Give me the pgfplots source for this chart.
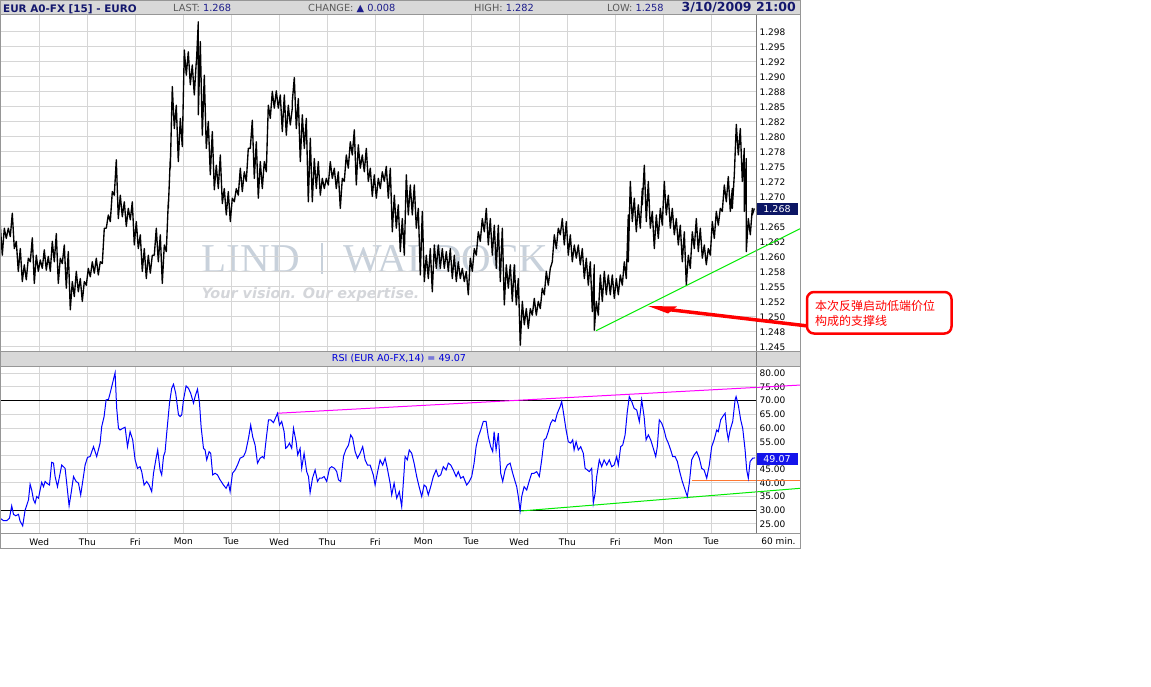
\documentclass[border=0pt]{standalone}
\usepackage{fontspec}
\setmainfont{DejaVu Sans}
\newfontfamily\wmserif{Liberation Serif}
\newfontfamily\cjk{Noto Sans CJK SC}
\usepackage{pgfplots}
\pgfplotsset{compat=1.18}

\definecolor{barbg}{RGB}{216,216,216}
\definecolor{framegray}{RGB}{150,150,150}
\definecolor{axisgray}{RGB}{120,120,120}
\definecolor{gridgray}{RGB}{214,214,214}
\definecolor{navy}{RGB}{20,24,110}
\definecolor{labgray}{RGB}{90,90,90}
\definecolor{valblue}{RGB}{30,30,140}
\definecolor{pricebox}{RGB}{12,22,100}
\definecolor{rsibox}{RGB}{20,20,235}
\definecolor{rsiblue}{RGB}{0,0,255}
\definecolor{trmag}{RGB}{255,0,255}
\definecolor{trgreen}{RGB}{0,235,0}
\definecolor{trorange}{RGB}{255,120,50}
\definecolor{wm}{RGB}{200,209,219}
\definecolor{wmtag}{RGB}{212,214,218}
\definecolor{annred}{RGB}{255,0,0}

\pgfplotsset{
  panel/.style={
    scale only axis, width=756pt,
    xmin=4.35, xmax=382.35,
    axis line style={draw=none},
    major tick length=0pt,
    grid=major,
    major grid style={gridgray, line width=1pt},
    clip=false,
    xtick={24,48,...,360},
    yticklabel pos=right,
    ticklabel style={font=\fontsize{9}{10}\selectfont},
  }
}

\begin{document}
\begin{tikzpicture}
\useasboundingbox (0pt,0pt) rectangle (1151pt,-687pt);
\fill[white] (0pt,0pt) rectangle (1151pt,-687pt);
% header bars
\fill[barbg] (0pt,0pt) rectangle (800pt,-15pt);
\fill[barbg] (0pt,-351pt) rectangle (800pt,-366pt);

% watermark
\node[anchor=base west, inner sep=0, text=wm, font=\wmserif\fontsize{41}{41}\selectfont] at (201.7pt,-272.7pt) {LIND};
\draw[wm, line width=2pt] (321.7pt,-243pt) -- (321.7pt,-273.5pt);
\node[anchor=base west, inner sep=0, text=wm, font=\wmserif\fontsize{41}{41}\selectfont] at (343pt,-272.7pt) {WALDOCK};
\node[inner sep=0, text=wm, font=\wmserif\fontsize{12}{12}\selectfont] at (557pt,-250pt) {®};
\node[anchor=base west, inner sep=0, text=wmtag, font=\bfseries\itshape\fontsize{14.4}{15}\selectfont] at (201.7pt,-298.3pt) {Your vision. Our expertise.};

% price panel
\begin{axis}[panel,
  at={(0pt,-351pt)}, anchor=south west, height=336pt,
  ymin=1.24433, ymax=1.30033,
  ytick={1.245,1.2475,1.25,1.2525,1.255,1.2575,1.26,1.2625,1.265,1.2675,1.27,1.2725,1.275,1.2775,1.28,1.2825,1.285,1.2875,1.29,1.2925,1.295,1.2975},
  yticklabels={1.245,1.248,1.250,1.252,1.255,1.258,1.260,1.262,1.265,,1.270,1.272,1.275,1.278,1.280,1.282,1.285,1.288,1.290,1.292,1.295,1.298},
  xticklabels={},
]
\addplot[black, line width=1.35pt, line join=round] coordinates {
(4.4,1.2634)(4.5,1.2653)(5.5,1.2603)(6.5,1.2648)(7.5,1.2631)(8.5,1.2648)(9.5,1.2634)(10.5,1.2673)(11.5,1.2614)(12.5,1.2626)
(13.5,1.2576)(14.5,1.2614)(15.5,1.2559)(16.5,1.2587)(17.5,1.2562)(18.5,1.2598)(19.5,1.2592)(20.5,1.2632)(21.5,1.2556)(22.5,1.2603)
(23.5,1.2576)(24.5,1.2595)(25.5,1.2581)(26.5,1.2612)(27.5,1.2578)(28.5,1.2601)(29.5,1.2576)(30.5,1.2626)(31.5,1.2592)(32.5,1.2639)
(33.5,1.2556)(34.5,1.2598)(35.5,1.2589)(36.5,1.2620)(37.5,1.2548)(38.5,1.2609)(39.5,1.2512)(40.5,1.2559)(41.5,1.2534)(42.5,1.2576)
(43.5,1.2542)(44.5,1.2564)(45.5,1.2526)(46.5,1.2559)(47.5,1.2553)(48.5,1.2581)(49.5,1.2567)(50.5,1.2592)(51.5,1.2573)(52.5,1.2598)
(53.5,1.2570)(54.5,1.2592)(55.5,1.2589)(56.5,1.2648)(57.5,1.2648)(58.5,1.2670)(59.5,1.2659)(60.5,1.2709)(61.5,1.2703)(62.5,1.2762)
(63.5,1.2664)(64.5,1.2703)(65.5,1.2667)(66.5,1.2692)(67.5,1.2651)(68.5,1.2681)(69.5,1.2662)(70.5,1.2692)(71.5,1.2620)(72.5,1.2659)
(73.5,1.2614)(74.5,1.2637)(75.5,1.2576)(76.5,1.2614)(77.5,1.2564)(78.5,1.2603)(79.5,1.2573)(80.5,1.2603)(81.5,1.2603)(82.5,1.2648)
(83.5,1.2592)(84.5,1.2637)(85.5,1.2556)(86.5,1.2620)(87.5,1.2609)(88.5,1.2692)(88.5,1.2681)(89.5,1.2764)(89.5,1.2748)(90.5,1.2884)
(91.5,1.2814)(92.5,1.2853)(93.5,1.2759)(94.5,1.2831)(95.5,1.2784)(96.5,1.2945)(97.5,1.2903)(98.5,1.2942)(99.5,1.2887)(100.5,1.2920)
(101.5,1.2870)(102.5,1.2926)(102.5,1.2920)(103.5,1.2992)(103.5,1.2837)(104.5,1.2959)(105.5,1.2803)(106.5,1.2903)(107.5,1.2781)(108.5,1.2826)
(109.5,1.2737)(110.5,1.2809)(111.5,1.2712)(112.5,1.2753)(113.5,1.2714)(114.5,1.2770)(115.5,1.2689)(116.5,1.2714)(117.5,1.2670)(118.5,1.2709)
(119.5,1.2659)(120.5,1.2698)(121.5,1.2692)(122.5,1.2714)(123.5,1.2703)(124.5,1.2748)(125.5,1.2709)(126.5,1.2742)(127.5,1.2726)(128.5,1.2781)
(129.5,1.2781)(130.5,1.2828)(131.5,1.2731)(132.5,1.2792)(133.5,1.2698)(134.5,1.2759)(135.5,1.2714)(136.5,1.2759)(137.5,1.2742)(138.5,1.2853)
(139.5,1.2831)(140.5,1.2876)(141.5,1.2848)(142.5,1.2877)(143.5,1.2848)(144.5,1.2870)(145.5,1.2809)(146.5,1.2870)(147.5,1.2803)(148.5,1.2853)
(149.5,1.2820)(150.5,1.2848)(150.5,1.2859)(151.5,1.2899)(152.5,1.2814)(153.5,1.2864)(154.5,1.2759)(155.5,1.2837)(156.5,1.2781)(157.5,1.2831)
(158.5,1.2692)(159.5,1.2798)(160.5,1.2692)(161.5,1.2764)(162.5,1.2714)(163.5,1.2759)(164.5,1.2703)(165.5,1.2731)(166.5,1.2714)(167.5,1.2731)
(168.5,1.2720)(169.5,1.2759)(170.5,1.2731)(171.5,1.2748)(172.5,1.2714)(173.5,1.2742)(174.5,1.2681)(175.5,1.2731)(176.5,1.2726)(177.5,1.2770)
(178.5,1.2748)(179.5,1.2792)(180.5,1.2770)(181.5,1.2812)(182.5,1.2720)(183.5,1.2787)(184.5,1.2748)(185.5,1.2770)(186.5,1.2742)(187.5,1.2781)
(188.5,1.2726)(189.5,1.2748)(190.5,1.2701)(191.5,1.2737)(192.5,1.2698)(193.5,1.2731)(194.5,1.2714)(195.5,1.2742)(196.5,1.2726)(197.5,1.2751)
(198.5,1.2698)(199.5,1.2748)(200.5,1.2642)(201.5,1.2703)(202.5,1.2648)(203.5,1.2687)(204.5,1.2609)(205.5,1.2664)(206.5,1.2603)(207.5,1.2737)
(208.5,1.2670)(209.5,1.2720)(210.5,1.2670)(211.5,1.2720)(212.5,1.2648)(213.5,1.2681)(214.5,1.2570)(215.5,1.2676)(216.5,1.2559)(217.5,1.2603)
(218.5,1.2564)(219.5,1.2614)(220.5,1.2542)(221.5,1.2620)(222.5,1.2581)(223.5,1.2620)(224.5,1.2581)(225.5,1.2614)(226.5,1.2581)(227.5,1.2609)
(228.5,1.2576)(229.5,1.2614)(230.5,1.2564)(231.5,1.2603)(232.5,1.2559)(233.5,1.2592)(234.5,1.2564)(235.5,1.2581)(236.5,1.2559)(237.5,1.2576)
(238.5,1.2537)(239.5,1.2598)(240.5,1.2576)(241.5,1.2614)(242.5,1.2603)(243.5,1.2642)(244.5,1.2626)(245.5,1.2664)(246.5,1.2642)(247.5,1.2681)
(248.5,1.2620)(249.5,1.2664)(250.5,1.2603)(251.5,1.2653)(252.5,1.2581)(253.5,1.2653)(254.5,1.2559)(255.5,1.2648)(256.5,1.2520)(257.5,1.2587)
(258.5,1.2548)(259.5,1.2587)(260.5,1.2526)(261.5,1.2587)(262.5,1.2520)(263.5,1.2564)(264.5,1.2453)(265.5,1.2526)(266.5,1.2487)(267.5,1.2514)
(268.5,1.2481)(269.5,1.2514)(270.5,1.2503)(271.5,1.2531)(272.5,1.2503)(273.5,1.2526)(274.5,1.2514)(275.5,1.2548)(276.5,1.2537)(277.5,1.2576)
(278.5,1.2553)(279.5,1.2581)(280.5,1.2592)(281.5,1.2637)(282.5,1.2614)(283.5,1.2648)(284.5,1.2637)(285.5,1.2664)(286.5,1.2620)(287.5,1.2659)
(288.5,1.2603)(289.5,1.2637)(290.5,1.2592)(291.5,1.2620)(292.5,1.2598)(293.5,1.2620)(294.5,1.2587)(295.5,1.2614)(296.5,1.2564)(297.5,1.2598)
(298.5,1.2553)(299.5,1.2592)(300.5,1.2509)(301.5,1.2587)(301.5,1.2478)(302.5,1.2526)(303.5,1.2503)(304.5,1.2570)(305.5,1.2526)(306.5,1.2576)
(307.5,1.2537)(308.5,1.2570)(309.5,1.2537)(310.5,1.2570)(311.5,1.2531)(312.5,1.2564)(313.5,1.2537)(314.5,1.2570)(315.5,1.2553)(316.5,1.2592)
(317.5,1.2564)(318.5,1.2670)(318.5,1.2592)(319.5,1.2726)(320.5,1.2659)(321.5,1.2698)(322.5,1.2642)(323.5,1.2687)(324.5,1.2648)(325.5,1.2714)
(325.5,1.2687)(326.5,1.2753)(327.5,1.2659)(328.5,1.2726)(329.5,1.2648)(330.5,1.2676)(331.5,1.2614)(332.5,1.2670)(333.5,1.2631)(334.5,1.2681)
(335.5,1.2653)(336.5,1.2726)(337.5,1.2670)(338.5,1.2703)(339.5,1.2648)(340.5,1.2681)(341.5,1.2637)(342.5,1.2664)(343.5,1.2620)(344.5,1.2653)
(345.5,1.2592)(346.5,1.2642)(347.5,1.2553)(348.5,1.2603)(349.5,1.2581)(350.5,1.2642)(351.5,1.2614)(352.5,1.2664)(353.5,1.2609)(354.5,1.2648)
(355.5,1.2598)(356.5,1.2620)(357.5,1.2587)(358.5,1.2614)(359.5,1.2603)(360.5,1.2659)(361.5,1.2631)(362.5,1.2676)(363.5,1.2653)(364.5,1.2681)
(365.5,1.2676)(366.5,1.2720)(367.5,1.2692)(368.5,1.2734)(369.5,1.2676)(370.5,1.2714)(370.5,1.2681)(371.5,1.2737)(371.5,1.2737)(372.5,1.2821)
(373.5,1.2770)(374.5,1.2814)(375.5,1.2726)(376.5,1.2781)(376.5,1.2676)(377.5,1.2764)(377.5,1.2609)(378.5,1.2664)(379.5,1.2637)(380.5,1.2681)
(380.5,1.2670)(381.5,1.2681)
};
% support line drawn on the price panel
\addplot[trgreen, line width=1pt] coordinates {(302.35,1.2477)(404.35,1.2647)};
\end{axis}

% RSI panel
\begin{axis}[panel,
  at={(0pt,-532.7pt)}, anchor=south west, height=166.7pt,
  ymin=21.8, ymax=82.66,
  ytick={25,30,...,80},
  yticklabels={25.00,30.00,35.00,40.00,45.00,,55.00,60.00,65.00,70.00,75.00,80.00},
  xticklabels={Wed,Thu,Fri,Mon,Tue,Wed,Thu,Fri,Mon,Tue,Wed,Thu,Fri,Mon,Tue},
  xticklabel style={yshift=-2pt},
]
\addplot[black, line width=1pt] coordinates {(4.35,30)(382.35,30)};
\addplot[black, line width=1pt] coordinates {(4.35,70)(382.35,70)};
\addplot[trmag, line width=1pt] coordinates {(142.85,65.4)(404.35,75.7)};
\addplot[trgreen, line width=1pt] coordinates {(264.35,29.7)(404.35,38.0)};
\addplot[trorange, line width=1pt] coordinates {(350.35,41.0)(404.35,41.0)};
\addplot[rsiblue, line width=1pt] coordinates {
(4.4,27.1)(6.1,26.2)(7.7,26.2)(9.1,27.1)(10.2,31.6)(11.1,28.5)(12.2,28.0)(13.6,28.5)(14.4,26.0)(15.2,25.0)
(15.7,24.3)(16.9,30.0)(18.6,33.8)(19.4,39.5)(20.2,37.4)(21.1,33.8)(21.9,32.6)(22.7,35.0)(23.6,34.4)(24.4,37.4)
(25.2,40.2)(26.1,38.6)(26.9,40.5)(27.7,39.9)(29.1,39.2)(30.2,47.5)(31.1,47.2)(31.9,42.3)(33.1,38.6)(34.1,42.3)
(35.2,46.5)(36.9,45.3)(37.7,39.9)(38.9,31.6)(39.9,36.2)(41.1,42.3)(42.4,40.5)(43.6,39.9)(44.7,35.6)(45.7,40.5)
(46.9,46.5)(48.1,49.3)(49.4,49.6)(51.1,53.2)(52.7,49.6)(54.4,54.5)(55.2,60.5)(56.4,64.2)(57.4,70.3)(58.6,70.5)
(59.4,72.7)(60.7,76.6)(61.9,80.2)(62.7,67.2)(63.6,59.9)(64.4,59.3)(65.7,59.9)(66.9,60.3)(68.1,53.2)(69.4,58.7)
(70.7,55.7)(71.9,48.4)(73.1,45.3)(74.4,45.9)(75.2,44.1)(76.4,39.2)(77.7,40.5)(78.9,39.2)(80.2,36.8)(81.1,43.5)
(82.4,49.0)(83.2,52.0)(84.4,44.7)(85.2,42.9)(86.1,49.6)(86.9,51.4)(87.7,58.1)(89.1,69.1)(90.2,74.5)(91.1,76.0)
(92.2,72.7)(93.6,64.8)(94.4,64.2)(95.2,64.8)(96.1,70.3)(97.4,75.4)(98.6,74.5)(99.7,72.7)(101.1,69.1)(101.9,71.5)
(103.1,74.2)(104.1,69.1)(104.9,60.5)(106.1,52.6)(106.9,52.0)(107.7,48.4)(108.9,51.4)(109.7,50.8)(110.7,42.9)(111.9,43.5)
(113.1,42.9)(114.4,41.1)(116.1,39.2)(117.4,38.0)(118.6,39.9)(119.4,36.8)(120.6,43.5)(121.9,44.7)(123.1,46.5)(124.4,49.0)
(126.1,49.6)(127.2,51.4)(128.6,56.3)(129.7,61.1)(130.7,56.8)(131.9,53.8)(133.1,47.2)(134.4,49.0)(135.6,49.6)(136.4,49.0)
(137.4,55.7)(138.6,63.0)(139.7,63.0)(141.1,62.0)(142.4,64.2)(143.1,65.4)(144.1,61.1)(145.2,62.4)(146.4,58.7)(147.2,52.6)
(148.1,53.2)(149.1,54.5)(150.2,52.6)(151.1,59.9)(152.4,55.0)(153.2,50.2)(154.4,52.6)(155.2,45.3)(156.4,50.8)(157.7,44.1)
(158.6,42.3)(159.4,36.4)(160.6,41.7)(161.9,44.7)(163.1,40.5)(164.1,41.7)(165.2,41.7)(166.4,42.3)(167.7,40.5)(169.1,45.3)
(170.2,45.9)(171.6,45.3)(172.7,44.1)(173.6,41.1)(174.7,40.5)(176.1,49.6)(177.2,52.0)(178.6,53.8)(179.7,57.5)(180.7,56.3)
(181.9,51.4)(183.1,49.0)(184.4,50.8)(185.7,53.2)(186.9,48.4)(188.1,46.5)(189.4,46.5)(191.0,42.9)(191.9,39.2)(193.0,43.5)
(194.4,48.4)(195.7,46.5)(196.9,49.0)(198.0,45.3)(199.4,39.9)(200.2,35.6)(201.4,39.9)(202.7,34.4)(204.0,36.8)(205.2,31.3)
(206.0,39.9)(206.9,49.6)(208.0,48.4)(209.0,52.0)(210.2,50.8)(211.4,47.2)(212.7,42.3)(213.9,38.6)(215.2,35.0)(216.4,39.2)
(217.4,38.6)(218.5,35.6)(219.7,38.6)(221.0,42.3)(222.4,44.7)(223.5,42.3)(224.7,42.9)(226.0,45.9)(227.4,44.7)(228.5,47.2)
(229.7,46.5)(231.0,44.7)(232.4,42.3)(233.5,44.1)(234.7,41.7)(236.0,42.3)(237.7,39.2)(239.0,40.5)(240.2,42.3)(241.4,47.2)
(242.4,53.2)(243.5,56.8)(244.7,59.3)(246.0,62.4)(247.4,62.4)(248.5,56.8)(249.7,53.2)(250.7,51.4)(251.4,58.7)(252.4,52.0)
(253.5,58.1)(254.7,43.5)(255.7,40.5)(256.9,44.7)(258.0,46.5)(259.4,47.2)(260.7,43.5)(261.9,40.5)(262.7,38.6)(263.5,35.0)
(264.4,29.8)(265.2,35.0)(266.4,38.6)(267.7,37.4)(268.9,40.5)(270.2,43.5)(271.4,43.5)(272.7,44.1)(274.0,42.3)(275.2,48.4)
(276.4,55.7)(277.4,56.3)(278.5,58.7)(279.7,61.8)(280.7,63.0)(281.9,62.4)(283.0,65.4)(284.4,67.8)(285.2,69.7)(286.0,66.0)
(287.4,59.3)(288.5,55.0)(289.7,54.5)(290.7,55.7)(291.4,52.0)(292.4,55.0)(293.5,52.0)(294.7,53.2)(296.0,50.8)(296.9,45.3)
(298.0,44.7)(299.0,44.1)(300.2,45.3)(301.0,32.6)(301.9,36.2)(302.7,42.3)(304.0,48.4)(305.2,45.9)(306.4,48.4)(307.7,46.5)
(309.0,48.4)(310.2,45.9)(311.4,46.5)(312.7,49.6)(313.5,46.5)(314.7,53.2)(315.7,53.8)(316.9,57.5)(318.0,66.0)(319.0,71.5)
(320.2,69.7)(321.4,67.2)(322.7,66.6)(324.0,62.4)(325.2,70.3)(326.4,64.2)(327.4,55.7)(328.5,57.5)(329.7,55.7)(331.0,52.6)
(332.2,49.6)(333.0,53.2)(334.0,63.0)(335.2,61.8)(336.4,59.3)(337.4,56.3)(338.5,54.5)(339.7,52.0)(340.7,49.6)(341.9,49.6)
(343.0,47.8)(344.4,43.5)(345.5,40.5)(346.9,37.4)(348.0,35.0)(349.0,39.9)(350.2,48.4)(351.4,50.2)(352.7,51.4)(354.0,49.0)
(355.2,45.3)(356.4,44.7)(357.7,41.7)(359.0,46.5)(360.2,53.2)(361.4,55.7)(362.7,59.3)(363.5,58.7)(364.7,63.0)(365.7,64.2)
(366.9,65.4)(367.7,59.3)(368.5,55.7)(369.4,59.3)(370.7,62.4)(371.9,70.3)(372.4,71.5)(373.5,68.4)(374.7,63.0)(375.7,59.9)
(376.9,52.0)(377.7,44.7)(378.5,41.7)(379.4,47.8)(380.7,49.0)(381.9,49.1)
};
\end{axis}

% frame and axis lines
\draw[axisgray, line width=1pt] (756pt,-15pt) -- (756pt,-533pt);
\draw[framegray, line width=1pt] (0pt,-351pt) -- (800pt,-351pt);
\draw[framegray, line width=1pt] (0pt,-366pt) -- (800pt,-366pt);
\draw[framegray, line width=1pt] (0pt,-15pt) -- (800pt,-15pt);
\draw[framegray, line width=1pt] (0pt,-533pt) -- (800pt,-533pt);
\draw[framegray, line width=1pt] (0.5pt,-0.5pt) rectangle (800pt,-548pt);

% header texts
\node[anchor=base west, inner sep=0, text=navy, font=\bfseries\fontsize{10.4}{11}\selectfont] at (3pt,-12.5pt) {EUR A0-FX [15] - EURO};
\node[anchor=base west, inner sep=0, font=\fontsize{9.8}{11}\selectfont] at (173pt,-11.7pt) {\textcolor{labgray}{LAST:} \textcolor{valblue}{1.268}};
\node[anchor=base west, inner sep=0, font=\fontsize{9.8}{11}\selectfont] at (308pt,-11.7pt) {\textcolor{labgray}{CHANGE:} \textcolor{valblue}{▲ 0.008}};
\node[anchor=base west, inner sep=0, font=\fontsize{9.8}{11}\selectfont] at (474pt,-11.7pt) {\textcolor{labgray}{HIGH:} \textcolor{valblue}{1.282}};
\node[anchor=base west, inner sep=0, font=\fontsize{9.8}{11}\selectfont] at (607pt,-11.7pt) {\textcolor{labgray}{LOW:} \textcolor{valblue}{1.258}};
\node[anchor=base east, inner sep=0, text=navy, font=\bfseries\fontsize{12.5}{13}\selectfont] at (796pt,-12pt) {3/10/2009 21:00};
\node[inner sep=0, text=rsiblue!85!black, font=\fontsize{9.6}{11}\selectfont] at (399pt,-358.5pt) {RSI (EUR A0-FX,14) = 49.07};
\node[inner sep=0, font=\fontsize{9}{10}\selectfont] at (778.5pt,-541pt) {60 min.};

% last value boxes
\node[fill=pricebox, text=white, inner sep=0, minimum width=41pt, minimum height=12pt, font=\fontsize{9.5}{10}\selectfont] at (777pt,-209pt) {1.268};
\node[fill=rsibox, text=white, inner sep=0, minimum width=41pt, minimum height=12.3pt, font=\fontsize{9.5}{10}\selectfont] at (777pt,-458.8pt) {49.07};

% annotation arrow and box
\fill[annred] (648pt,-306pt) -- (677pt,-306.5pt) -- (668pt,-313.5pt) -- cycle;
\draw[annred, line width=3.5pt] (668pt,-309.5pt) -- (808pt,-326pt);
\draw[annred, line width=2.5pt, rounded corners=7pt, fill=white] (807pt,-292pt) rectangle (951.5pt,-333.5pt);
\node[anchor=west, inner sep=0, text=annred, font=\cjk\fontsize{12}{14}\selectfont] at (815pt,-306pt) {本次反弹启动低端价位};
\node[anchor=west, inner sep=0, text=annred, font=\cjk\fontsize{12}{14}\selectfont] at (815pt,-321pt) {构成的支撑线};
\end{tikzpicture}
\end{document}
